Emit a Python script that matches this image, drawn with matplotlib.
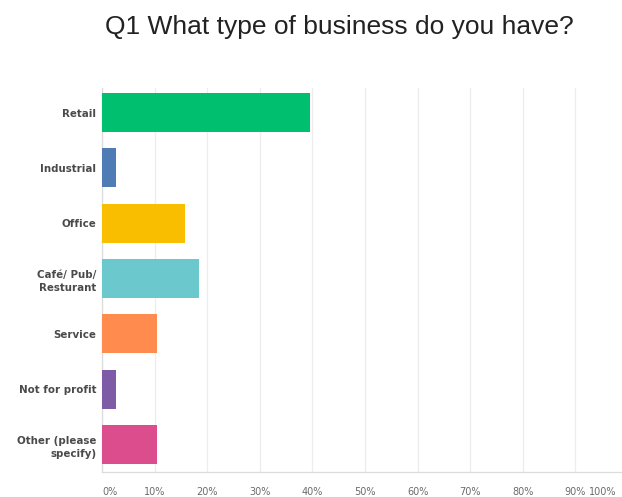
import matplotlib
matplotlib.use("Agg")
import matplotlib.pyplot as plt
import matplotlib.transforms as mtransforms

categories = ["Retail", "Industrial", "Office", "Café/ Pub/\nResturant", "Service",
              "Not for profit", "Other (please\nspecify)"]
values = [39.47, 2.63, 15.79, 18.42, 10.53, 2.63, 10.53]
colors = ["#00BF6F", "#507CB6", "#F9BE00", "#6BC8CD", "#FF8B4F", "#7D5BA6", "#DB4D8D"]
xticks = [0, 10, 20, 30, 40, 50, 60, 70, 80, 90, 100]
xticklabels = ["0%", "10%", "20%", "30%", "40%", "50%", "60%", "70%", "80%", "90%", "100%"]

W, H = 622, 497
fig = plt.figure(figsize=(W / 100, H / 100), dpi=100)
fig.patch.set_facecolor("white")

left, right, top, bottom = 102, 628, 88, 472
ax = fig.add_axes([left / W, 1 - bottom / H, (right - left) / W, (bottom - top) / H])

ypos = list(range(len(categories)))
ax.barh(ypos, values, height=0.71, color=colors, zorder=3)
ax.set_xlim(0, 100)
ax.set_ylim(6.497, -0.443)

ax.set_xticks(xticks)
ax.set_xticklabels(xticklabels, fontsize=7, color="#6b6b6b", fontfamily="DejaVu Sans")
ax.set_yticks(ypos)
ax.set_yticklabels(categories, fontsize=7.4, color="#4a4a4a", fontweight="bold",
                   fontfamily="DejaVu Sans", linespacing=1.45)
ax.tick_params(axis="x", length=0, pad=11)
ax.tick_params(axis="y", length=0, pad=4)

labs = ax.get_xticklabels()
labs[0].set_horizontalalignment("left")
labs[-1].set_horizontalalignment("right")
labs[-1].set_transform(labs[-1].get_transform() +
                       mtransforms.ScaledTranslation(-12 / 100, 0, fig.dpi_scale_trans))

ax.grid(axis="x", color="#ededed", linewidth=0.9, zorder=0)
for s in ["top", "right"]:
    ax.spines[s].set_visible(False)
ax.spines["left"].set_color("#dcdcdc")
ax.spines["bottom"].set_color("#dcdcdc")
ax.spines["left"].set_linewidth(0.9)
ax.spines["bottom"].set_linewidth(0.9)

fig.text(339 / W, 1 - 27 / H, "Q1 What type of business do you have?",
         ha="center", va="center", fontsize=19, color="#222222", fontfamily="Liberation Sans")

fig.savefig("out.png", dpi=100, facecolor="white")
